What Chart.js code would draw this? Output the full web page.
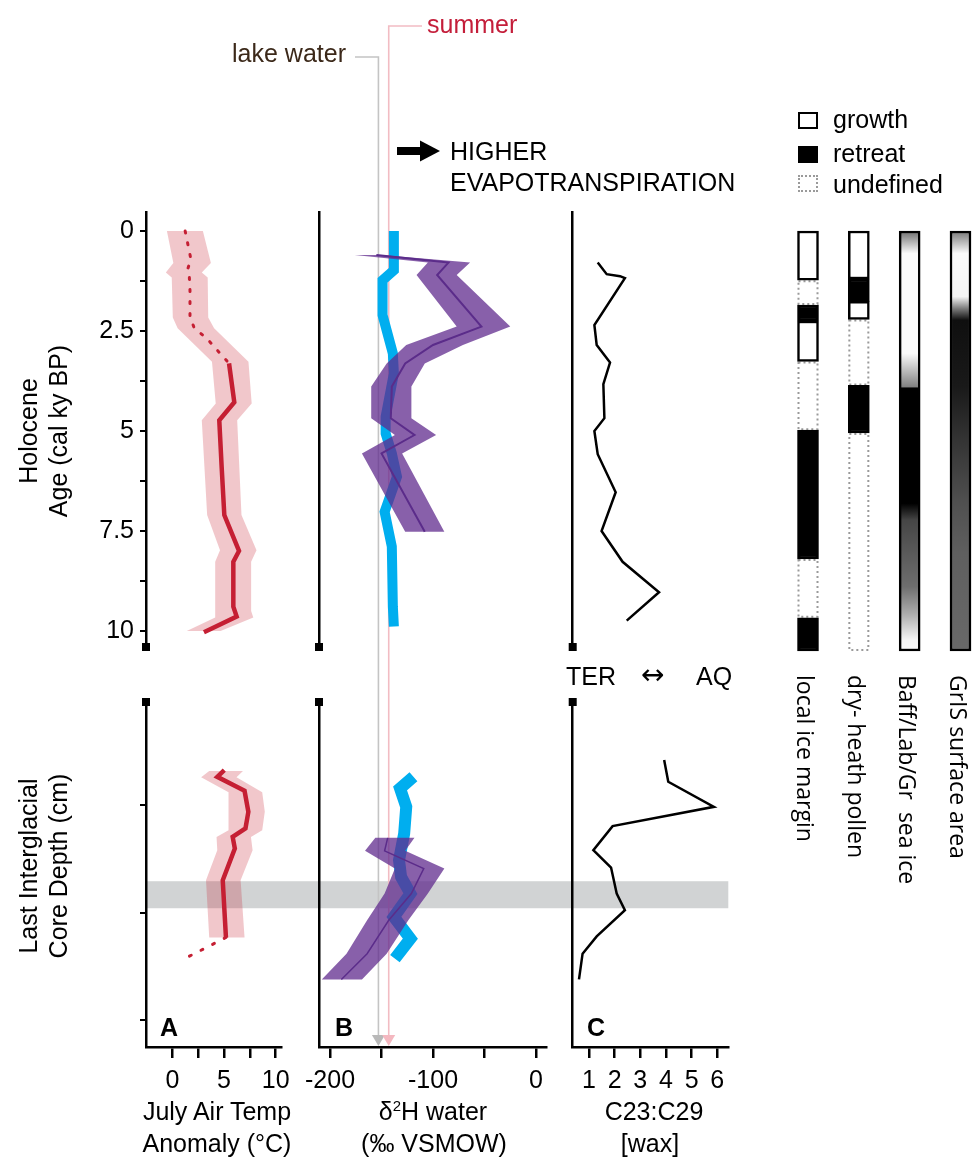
<!DOCTYPE html>
<html>
<head>
<meta charset="utf-8">
<title>Holocene and Last Interglacial proxy records</title>
<script src="https://cdn.jsdelivr.net/npm/chart.js@4.4.1/dist/chart.umd.min.js"></script>
<style>
  html, body { margin: 0; padding: 0; background: #fff; overflow: hidden; }
  #figure { position: relative; width: 972px; height: 1164px; font-family: 'Liberation Sans', Arial, sans-serif; color: #000; }
  #figure canvas { position: absolute; }
  .t { position: absolute; font-size: 25px; line-height: 25px; white-space: nowrap; }
  .mid { width: 300px; text-align: center; }
  .rot { transform: translate(-50%, -50%) rotate(-90deg); }
  .track { position: absolute; writing-mode: vertical-rl; font-family: 'Open Sans', sans-serif; font-size: 23px; line-height: 23px; white-space: pre; }
  .key { position: absolute; left: 798px; width: 20px; height: 17px; box-sizing: border-box; }
  .panel { font-weight: bold; }
  .sup { font-size: 15px; position: relative; top: -9px; }
</style>
</head>
<body>
<div id="figure">
  <canvas id="backdrop" width="972" height="1164" style="left:0;top:0"></canvas>
  <canvas id="aHol"></canvas><canvas id="bHol"></canvas><canvas id="cHol"></canvas>
  <canvas id="aLig"></canvas><canvas id="bLig"></canvas><canvas id="cLig"></canvas>
  <canvas id="tracks"></canvas>

  <div class="t" style="right:626px;top:41px;color:#3b2819">lake water</div>
  <div class="t" style="left:427px;top:12px;color:#c41e3a">summer</div>
  <div class="t" style="left:450px;top:139px">HIGHER</div>
  <div class="t" style="left:450px;top:170px">EVAPOTRANSPIRATION</div>

  <div class="key" style="top:112px;border:2.5px solid #000;background:#fff"></div>
  <div class="key" style="top:146px;background:#000"></div>
  <div class="key" style="top:175px;border:2px dotted #9a9a9a"></div>
  <div class="t" style="left:833px;top:107px">growth</div>
  <div class="t" style="left:833px;top:141px">retreat</div>
  <div class="t" style="left:833px;top:172px">undefined</div>

  <div class="t" style="left:566px;top:664px">TER</div>
  <div class="t" style="left:641px;top:662px;font-family:'DejaVu Sans',sans-serif;font-size:28px">&#8596;</div>
  <div class="t" style="left:696px;top:664px">AQ</div>

  <div class="t rot" style="left:28px;top:431px">Holocene</div>
  <div class="t rot" style="left:58px;top:431px">Age (cal ky BP)</div>
  <div class="t rot" style="left:28px;top:866px">Last Interglacial</div>
  <div class="t rot" style="left:58px;top:866px">Core Depth (cm)</div>

  <div class="t panel" style="left:160px;top:1015px">A</div>
  <div class="t panel" style="left:335px;top:1015px">B</div>
  <div class="t panel" style="left:587px;top:1015px">C</div>

  <div class="t mid" style="left:67px;top:1099px">July Air Temp</div>
  <div class="t mid" style="left:67px;top:1131px">Anomaly (°C)</div>
  <div class="t mid" style="left:283px;top:1099px">δ<span class="sup">2</span>H water</div>
  <div class="t mid" style="left:284px;top:1131px">(‰ VSMOW)</div>
  <div class="t mid" style="left:504px;top:1099px">C23:C29</div>
  <div class="t mid" style="left:500px;top:1131px">[wax]</div>
</div>

<script>
// ---------- tick values ----------
const ageTicks = [0, 1.25, 2.5, 3.75, 5, 6.25, 7.5, 8.75, 10];
const ageTickLabels = ['0', '', '2.5', '', '5', '', '7.5', '', '10'];
const depthTicks = [10, 20, 30];
const tempTicks = [0, 2.5, 5, 7.5, 10];
const tempTickLabels = ['0', '', '5', '', '10'];
const d2hTicks = [-200, -150, -100, -50, 0];
const d2hTickLabels = ['-200', '', '-100', '', '0'];
const waxTicks = [1, 2, 3, 4, 5, 6];
const waxTickLabels = ['1', '2', '3', '4', '5', '6'];

// ---------- A: July air temperature anomaly ----------
const tempHolDotAge = [0, 0.71, 0.98, 1.16, 1.48, 2.14, 2.43, 2.68, 3.31];
const tempHolDot = [1.1, 1.64, 1.3, 1.49, 1.55, 1.55, 1.95, 3.1, 5.19];
const tempHolAge = [3.31, 4.28, 4.73, 5.89, 7.1, 8.0, 8.27, 9.39, 9.64, 10.03];
const tempHol = [5.19, 5.68, 4.28, 4.5, 4.75, 6.12, 5.59, 5.59, 5.9, 2.85];
const tempHolBandAge = [0, 0.8, 1.04, 1.16, 2.16, 2.43, 3.27, 4.31, 4.73, 7.1, 7.98, 8.27, 9.5, 9.66, 10.0];
const tempHolLo = [-0.6, 0.0, -0.7, -0.15, -0.05, 0.4, 3.6, 3.95, 2.65, 3.15, 4.35, 3.9, 3.9, 3.9, 1.25];
const tempHolHi = [2.75, 3.5, 2.65, 3.2, 3.25, 3.8, 7.0, 7.3, 5.95, 6.35, 7.75, 7.25, 7.25, 7.45, 4.4];

const tempLigDepth = [6.74, 7.37, 8.67, 10.62, 12.17, 12.95, 14.03, 16.98, 22.3];
const tempLig = [5.03, 4.35, 6.99, 7.36, 7.08, 5.84, 6.05, 4.88, 5.19];
const tempLigDotDepth = [22.3, 24.45];
const tempLigDot = [5.19, 0.8];
const tempLigBandDepth = [6.84, 7.4, 8.8, 10.62, 12.33, 12.95, 14.19, 16.98, 22.3];
const tempLigLo = [3.57, 2.79, 5.44, 5.44, 5.44, 4.28, 4.35, 3.26, 3.57];
const tempLigHi = [6.84, 6.21, 8.7, 8.95, 8.7, 7.61, 7.77, 6.61, 6.99];

// ---------- B: d2H of lake water (blue) and leaf-wax water (purple) ----------
const lakeHolAge = [0, 0.98, 1.23, 2.1, 3.06, 3.56, 4.64, 5.06, 5.56, 6.14, 7.02, 7.89, 9.39, 9.89];
const lakeHol = [-138, -138, -149, -149, -139, -138, -146, -146, -140, -135, -147, -140, -139, -138];
const waxHolAge = [0.6, 0.79, 1.1, 2.39, 2.85, 3.31, 3.89, 4.68, 5.1, 5.56, 7.52];
const waxHol = [-155, -85, -96, -53, -100, -127, -140, -141, -118, -150, -108];
const waxHolLo = [-176, -105, -116, -77, -126, -145, -160, -160, -137, -169, -127];
const waxHolHi = [-150, -64, -77, -25, -71, -108, -121, -121, -97, -130, -89];

const lakeLigDepth = [7.37, 8.45, 10.16, 12.64, 15.12, 16.67, 18.22, 20.39, 22.4, 24.26];
const lakeLig = [-119, -132, -126, -128, -133, -131, -122, -138, -122, -137];
const waxLigDepth = [13.04, 14.25, 15.89, 18.22, 20.7, 23.8, 26.2];
const waxLig = [-144, -147, -109, -121, -143, -164, -189];
const waxLigLo = [-156, -166, -137, -147, -164, -184, -208];
const waxLigHi = [-118, -127, -89, -105, -124, -145, -169];

const lakeWaterD2H = -153;
const summerD2H = -143;

// ---------- C: C23:C29 wax ratio ----------
const ratioHolAge = [0.79, 1.08, 1.13, 1.18, 2.35, 2.85, 3.29, 3.83, 4.68, 5.0, 5.58, 6.53, 7.5, 8.27, 9.03, 9.74];
const ratioHol = [1.34, 1.69, 2.21, 2.4, 1.21, 1.3, 1.82, 1.56, 1.6, 1.21, 1.34, 2.04, 1.49, 2.31, 3.73, 2.47];
const ratioLigDepth = [5.81, 7.83, 10.16, 11.95, 14.19, 15.8, 18.22, 19.77, 22.19, 23.8, 26.19];
const ratioLig = [3.93, 4.09, 5.87, 1.92, 1.17, 1.86, 2.08, 2.4, 1.3, 0.75, 0.61];

// interval shaded across the Last Interglacial panels (cm)
const greyBandDepth = [17.07, 19.58];

// ---------- regional records (ka) ----------
const barTracks = ['local ice margin', 'dry- heath pollen', 'Baff/Lab/Gr  sea ice', 'GrIS surface area'];
// [track, from, to]
const growthSpans = [[0, 0, 1.23], [0, 2.25, 3.26], [1, 0, 1.2], [1, 1.76, 2.21]];
const retreatSpans = [[0, 1.85, 2.25], [0, 4.98, 8.2], [0, 9.67, 10.5], [1, 1.2, 1.76], [1, 3.86, 5.05]];
const undefinedSpans = [[0, 1.23, 1.85], [0, 3.26, 4.98], [0, 8.2, 9.67], [1, 2.21, 3.86], [1, 5.05, 10.5]];
const seaIceAges = [0, 0.56, 3.06, 3.89, 3.93, 6.81, 7.23, 8.89, 9.6, 10.23, 10.5];
const seaIceGrey = [110, 250, 250, 130, 0, 0, 70, 110, 175, 245, 250];
const grisAges = [0, 0.56, 1.64, 1.95, 2.23, 3.89, 5.14, 6.81, 8.06, 10.5];
const grisGrey = [120, 250, 245, 120, 15, 25, 50, 80, 95, 105];

// ---------- layout ----------
const FONT = "'Liberation Sans', Arial, sans-serif";
Chart.defaults.font.family = FONT;
Chart.defaults.font.size = 25;
Chart.defaults.color = '#000';

const COLS = {
  A: { axis: 146, right: 286, min: -2.55, max: 10.5 },
  B: { axis: 319, right: 546, min: -210.7, max: 9.7 },
  C: { axis: 572.7, right: 728.3, min: 0.365, max: 6.43 }
};
const HOL = { top: 212, bottom: 647, min: -0.475, max: 10.4, end: 'bottom' };
const LIG = { top: 702, bottom: 1047, min: 0.42, max: 32.47, end: 'top' };
const PAD = 30; // room above/below the plot area for tick labels and axis caps

const RED = '#c51f33';
const PINK = 'rgba(201, 33, 49, 0.25)';
const BLUE = '#00aeef';
const PURPLE = 'rgba(96, 43, 142, 0.75)';
const PURPLE_LINE = '#5b2c8a';

const pts = (xs, ys) => xs.map((x, i) => ({ x, y: ys[i] }));
const bandShape = (ys, lo, hi) => pts(lo, ys).concat(pts(hi, ys).reverse());

// small black square capping the end of each vertical axis
const axisEndMark = {
  id: 'axisEndMark',
  afterDraw(chart, args, opts) {
    const { ctx, chartArea } = chart;
    const y = opts.at === 'bottom' ? chartArea.bottom : chartArea.top;
    ctx.save();
    ctx.fillStyle = '#000';
    ctx.fillRect(chartArea.left - 4, y - 4, 8, 8);
    ctx.restore();
  }
};

function makeProfile(id, col, row, datasets, o) {
  const left = Math.floor(col.axis) - 62;
  const yw = col.axis - left;
  const width = Math.ceil(col.right + 12 - left);
  const xh = o.xTicks ? 56 : 0;
  const top = row.top - PAD;
  const height = (row.bottom - row.top) + PAD + (o.xTicks ? xh : PAD);
  const xLabels = o.xLabels || [];
  const yLabels = o.yLabels || [];
  const canvas = document.getElementById(id);
  canvas.width = width;
  canvas.height = height;
  canvas.style.left = left + 'px';
  canvas.style.top = top + 'px';

  const chart = new Chart(canvas, {
    type: 'line',
    data: {
      datasets: datasets.map(d => Object.assign({
        pointRadius: 0, pointHoverRadius: 0, fill: false, tension: 0, borderJoinStyle: 'miter'
      }, d))
    },
    options: {
      responsive: false,
      animation: false,
      events: [],
      layout: { padding: { top: PAD, left: 0, right: width - (col.right - left), bottom: o.xTicks ? 0 : PAD } },
      plugins: { legend: { display: false }, tooltip: { enabled: false }, axisEndMark: { at: row.end } },
      scales: {
        x: {
          type: 'linear', min: col.min, max: col.max, display: !!o.xTicks,
          afterBuildTicks: s => { if (o.xTicks) s.ticks = o.xTicks.map(v => ({ value: v })); },
          afterFit: s => { s.height = xh; },
          grid: { drawOnChartArea: false, tickLength: 11, lineWidth: 2.5, tickColor: '#000' },
          border: { display: true, color: '#000', width: 2.5 },
          ticks: { autoSkip: false, maxRotation: 0, padding: 8, callback: (v, i) => (xLabels[i] ?? '') }
        },
        y: {
          type: 'linear', min: row.min, max: row.max, reverse: true,
          afterBuildTicks: s => { s.ticks = (o.yTicks || []).map(v => ({ value: v })); },
          afterFit: s => { s.width = yw; },
          grid: { display: !!o.yTicks, drawOnChartArea: false, tickLength: 6, lineWidth: 2, tickColor: '#000' },
          border: { display: true, color: '#000', width: 2.5 },
          ticks: { display: !!o.yLabels, padding: 6, callback: (v, i) => (yLabels[i] ?? '') }
        }
      }
    },
    plugins: [axisEndMark]
  });
  chart.pageLeft = left;
  chart.pageTop = top;
  return chart;
}

// ---------- panel A ----------
const aHol = makeProfile('aHol', COLS.A, HOL, [
  { data: pts(tempHol, tempHolAge), borderColor: RED, borderWidth: 4.5, order: 1 },
  { data: pts(tempHolDot, tempHolDotAge), borderColor: RED, borderWidth: 3, borderDash: [2, 10], borderCapStyle: 'round', order: 2 },
  { data: bandShape(tempHolBandAge, tempHolLo, tempHolHi), fill: 'shape', backgroundColor: PINK, borderColor: 'transparent', borderWidth: 0, order: 3 }
], { yTicks: ageTicks, yLabels: ageTickLabels });

const aLig = makeProfile('aLig', COLS.A, LIG, [
  { data: pts(tempLig, tempLigDepth), borderColor: RED, borderWidth: 4.5, order: 1 },
  { data: pts(tempLigDot, tempLigDotDepth), borderColor: RED, borderWidth: 3, borderDash: [2, 11], borderCapStyle: 'round', order: 2 },
  { data: bandShape(tempLigBandDepth, tempLigLo, tempLigHi), fill: 'shape', backgroundColor: PINK, borderColor: 'transparent', borderWidth: 0, order: 3 }
], { yTicks: depthTicks, xTicks: tempTicks, xLabels: tempTickLabels });

// ---------- panel B ----------
const bHol = makeProfile('bHol', COLS.B, HOL, [
  { data: pts(waxHol, waxHolAge), borderColor: PURPLE_LINE, borderWidth: 2, order: 1 },
  { data: bandShape(waxHolAge, waxHolLo, waxHolHi), fill: 'shape', backgroundColor: PURPLE, borderColor: 'transparent', borderWidth: 0, order: 2 },
  { data: pts(lakeHol, lakeHolAge), borderColor: BLUE, borderWidth: 10, borderCapStyle: 'butt', order: 3 }
], {});

const bLig = makeProfile('bLig', COLS.B, LIG, [
  { data: pts(waxLig, waxLigDepth), borderColor: PURPLE_LINE, borderWidth: 1.5, order: 1 },
  { data: bandShape(waxLigDepth, waxLigLo, waxLigHi), fill: 'shape', backgroundColor: PURPLE, borderColor: 'transparent', borderWidth: 0, order: 2 },
  { data: pts(lakeLig, lakeLigDepth), borderColor: BLUE, borderWidth: 12, borderCapStyle: 'butt', order: 3 }
], { xTicks: d2hTicks, xLabels: d2hTickLabels });

// ---------- panel C ----------
const cHol = makeProfile('cHol', COLS.C, HOL, [
  { data: pts(ratioHol, ratioHolAge), borderColor: '#000', borderWidth: 2.5 }
], {});

const cLig = makeProfile('cLig', COLS.C, LIG, [
  { data: pts(ratioLig, ratioLigDepth), borderColor: '#000', borderWidth: 2.5 }
], { xTicks: waxTicks, xLabels: waxTickLabels });

// ---------- regional record bars ----------
function shadeFill(ages, greys) {
  return (ctx) => {
    const chart = ctx.chart;
    if (!chart.chartArea) return '#888';
    const y = chart.scales.y;
    const y0 = y.getPixelForValue(ages[0]);
    const y1 = y.getPixelForValue(ages[ages.length - 1]);
    const g = chart.ctx.createLinearGradient(0, y0, 0, y1);
    ages.forEach((a, i) => {
      const c = greys[i];
      g.addColorStop((y.getPixelForValue(a) - y0) / (y1 - y0), `rgb(${c},${c},${c})`);
    });
    return g;
  };
}

const spansToData = spans => spans.map(([t, a, b]) => ({ x: barTracks[t], y: [a, b] }));

// dotted outline around the "undefined" spans
const dottedSpans = {
  id: 'dottedSpans',
  beforeDatasetsDraw(chart) {
    const meta = chart.getDatasetMeta(0);
    const ctx = chart.ctx;
    ctx.save();
    ctx.strokeStyle = '#9a9a9a';
    ctx.lineWidth = 2;
    ctx.setLineDash([2, 3]);
    meta.data.forEach(el => {
      const { x, y, base, width } = el.getProps(['x', 'y', 'base', 'width'], true);
      const top = Math.min(y, base), bot = Math.max(y, base);
      ctx.strokeRect(x - width / 2 + 1, top + 1, width - 2, bot - top - 2);
    });
    ctx.restore();
  }
};

function makeTracks() {
  const left = 770, top = 221, width = 202, height = 439;
  const canvas = document.getElementById('tracks');
  canvas.width = width;
  canvas.height = height;
  canvas.style.left = left + 'px';
  canvas.style.top = top + 'px';
  const common = { barThickness: 21, grouped: false, borderSkipped: false, clip: false, borderColor: '#000', borderWidth: 2.5 };
  const chart = new Chart(canvas, {
    type: 'bar',
    data: {
      labels: barTracks,
      datasets: [
        Object.assign({}, common, { data: spansToData(undefinedSpans), backgroundColor: 'rgba(0,0,0,0)', borderWidth: 0, order: 5 }),
        Object.assign({}, common, { data: spansToData(retreatSpans), backgroundColor: '#000', order: 3 }),
        Object.assign({}, common, { data: spansToData(growthSpans), backgroundColor: '#fff', order: 2 }),
        Object.assign({}, common, { data: [{ x: barTracks[2], y: [seaIceAges[0], seaIceAges[seaIceAges.length - 1]] }], backgroundColor: shadeFill(seaIceAges, seaIceGrey), order: 1 }),
        Object.assign({}, common, { data: [{ x: barTracks[3], y: [grisAges[0], grisAges[grisAges.length - 1]] }], backgroundColor: shadeFill(grisAges, grisGrey), order: 1 })
      ]
    },
    options: {
      responsive: false,
      animation: false,
      events: [],
      layout: { padding: { top: 10, bottom: 9, left: 38, right: 11.5 } },
      plugins: { legend: { display: false }, tooltip: { enabled: false } },
      scales: {
        x: { type: 'category', offset: false, display: false },
        y: { type: 'linear', min: 0, max: 10.5, reverse: true, display: false }
      }
    },
    plugins: [dottedSpans]
  });

  // track names, set sideways under each bar
  const fig = document.getElementById('figure');
  barTracks.forEach((name, i) => {
    const div = document.createElement('div');
    div.className = 'track';
    div.textContent = name;
    div.style.left = (left + chart.scales.x.getPixelForValue(i) - 14) + 'px';
    div.style.top = '675px';
    fig.appendChild(div);
  });
  return chart;
}
makeTracks();

// ---------- shared backdrop: shaded interval, reference values, arrow ----------
function drawBackdrop() {
  const ctx = document.getElementById('backdrop').getContext('2d');

  // grey interval across the three Last Interglacial panels
  const y0 = aLig.pageTop + aLig.scales.y.getPixelForValue(greyBandDepth[0]);
  const y1 = aLig.pageTop + aLig.scales.y.getPixelForValue(greyBandDepth[1]);
  const x0 = aLig.pageLeft + aLig.chartArea.left;
  const x1 = cLig.pageLeft + cLig.chartArea.right;
  ctx.fillStyle = '#d1d3d4';
  ctx.fillRect(x0, y0, x1 - x0, y1 - y0);

  // lake water and summer precipitation reference lines
  const bottom = bLig.pageTop + bLig.chartArea.bottom;
  const refs = [
    { v: lakeWaterD2H, top: 57, stubTo: 355, line: '#c4c4c4', head: '#b9b9b9' },
    { v: summerD2H, top: 26, stubTo: 422, line: '#f2bcc3', head: '#f4b8c0' }
  ];
  refs.forEach(r => {
    const x = bLig.pageLeft + bLig.scales.x.getPixelForValue(r.v);
    ctx.strokeStyle = r.line;
    ctx.lineWidth = 1.6;
    ctx.beginPath();
    ctx.moveTo(r.stubTo, r.top);
    ctx.lineTo(x, r.top);
    ctx.lineTo(x, bottom - 10);
    ctx.stroke();
    ctx.fillStyle = r.head;
    ctx.beginPath();
    ctx.moveTo(x - 6.5, bottom - 12);
    ctx.lineTo(x + 6.5, bottom - 12);
    ctx.lineTo(x, bottom - 1);
    ctx.closePath();
    ctx.fill();
  });

  // arrow next to the evapotranspiration note
  ctx.fillStyle = '#000';
  ctx.fillRect(397, 147, 26, 8);
  ctx.beginPath();
  ctx.moveTo(420, 140.5);
  ctx.lineTo(440, 151);
  ctx.lineTo(420, 161.5);
  ctx.closePath();
  ctx.fill();
}
drawBackdrop();
</script>
</body>
</html>
